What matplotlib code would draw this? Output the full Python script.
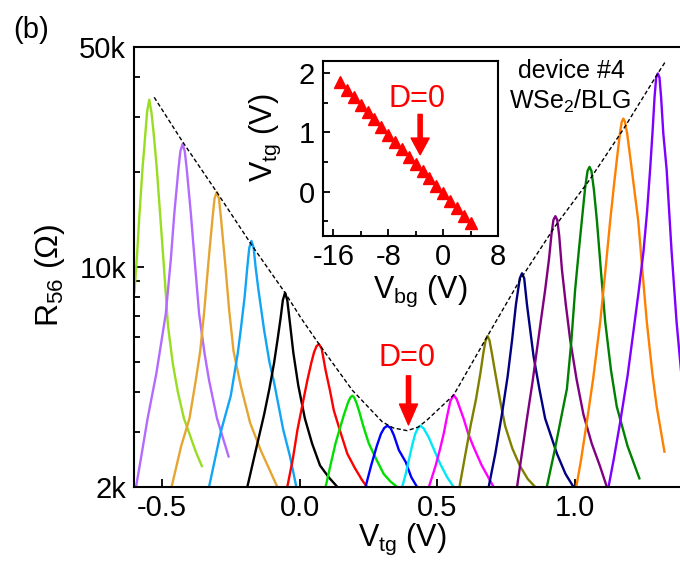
import matplotlib
matplotlib.use('Agg')
import matplotlib.pyplot as plt
from matplotlib.ticker import FixedLocator, NullFormatter

plt.rcParams['font.family'] = ['Liberation Sans', 'DejaVu Sans']
plt.rcParams['mathtext.fontset'] = 'custom'
plt.rcParams['mathtext.rm'] = 'Liberation Sans'
plt.rcParams['mathtext.it'] = 'Liberation Sans:italic'
plt.rcParams['axes.unicode_minus'] = False

# R56 vs Vtg traces (R in kOhm), one list per trace
curve_vtg = [
    [-0.600, -0.590, -0.582, -0.570, -0.560, -0.554, -0.546, -0.538, -0.530, -0.519, -0.506, -0.492, -0.478, -0.460, -0.442, -0.420, -0.400, -0.378, -0.355],
    [-0.594, -0.575, -0.552, -0.520, -0.486, -0.468, -0.455, -0.440, -0.433, -0.425, -0.417, -0.410, -0.395, -0.380, -0.365, -0.345, -0.329, -0.300, -0.258],
    [-0.465, -0.430, -0.400, -0.377, -0.361, -0.346, -0.331, -0.316, -0.309, -0.301, -0.293, -0.286, -0.271, -0.256, -0.240, -0.214, -0.180, -0.140, -0.081],
    [-0.329, -0.286, -0.250, -0.225, -0.214, -0.200, -0.190, -0.183, -0.175, -0.167, -0.160, -0.150, -0.129, -0.110, -0.093, -0.060, -0.035, -0.012],
    [-0.190, -0.160, -0.129, -0.110, -0.093, -0.080, -0.069, -0.061, -0.053, -0.045, -0.035, -0.023, -0.005, 0.019, 0.045, 0.074, 0.105, 0.137],
    [-0.045, -0.025, -0.008, 0.010, 0.028, 0.042, 0.052, 0.061, 0.070, 0.080, 0.094, 0.110, 0.124, 0.150, 0.173, 0.200, 0.227, 0.245],
    [0.094, 0.112, 0.130, 0.145, 0.161, 0.176, 0.184, 0.191, 0.198, 0.206, 0.215, 0.232, 0.251, 0.278, 0.305, 0.330, 0.354],
    [0.239, 0.260, 0.280, 0.295, 0.307, 0.318, 0.330, 0.342, 0.360, 0.385, 0.405, 0.426],
    [0.372, 0.385, 0.396, 0.410, 0.420, 0.430, 0.438, 0.450, 0.468, 0.490, 0.511, 0.535, 0.559],
    [0.469, 0.493, 0.510, 0.523, 0.535, 0.547, 0.559, 0.570, 0.582, 0.595, 0.612, 0.632, 0.660, 0.704],
    [0.580, 0.600, 0.620, 0.640, 0.656, 0.667, 0.675, 0.682, 0.689, 0.698, 0.710, 0.728, 0.746, 0.772, 0.800, 0.828, 0.855],
    [0.686, 0.710, 0.734, 0.755, 0.771, 0.785, 0.799, 0.807, 0.815, 0.825, 0.849, 0.870, 0.891, 0.934, 0.965, 0.994],
    [0.789, 0.805, 0.825, 0.845, 0.861, 0.876, 0.891, 0.905, 0.914, 0.921, 0.928, 0.935, 0.942, 0.952, 0.966, 0.982, 1.005, 1.030, 1.060, 1.090, 1.115],
    [0.897, 0.925, 0.950, 0.970, 0.986, 1.000, 1.013, 1.024, 1.036, 1.045, 1.052, 1.059, 1.068, 1.079, 1.094, 1.109, 1.130, 1.151, 1.190, 1.233],
    [1.004, 1.020, 1.042, 1.065, 1.091, 1.110, 1.127, 1.142, 1.153, 1.163, 1.169, 1.175, 1.181, 1.189, 1.199, 1.214, 1.229, 1.245, 1.260, 1.280, 1.296, 1.324],
    [1.121, 1.140, 1.163, 1.190, 1.211, 1.230, 1.248, 1.261, 1.272, 1.281, 1.288, 1.294, 1.300, 1.306, 1.312, 1.320, 1.332, 1.350, 1.368, 1.385],
]
curve_r = [
    [8.3, 11.0, 14.5, 20.8, 26.6, 31.0, 34.0, 31.0, 26.6, 20.8, 14.5, 9.8, 6.5, 4.9, 4.0, 3.3, 2.95, 2.6, 2.33],
    [2.0, 2.5, 3.3, 4.6, 7.1, 10.5, 14.8, 20.5, 23.3, 24.6, 23.3, 20.5, 14.8, 10.2, 7.1, 5.3, 4.37, 3.3, 2.5],
    [2.0, 2.7, 3.3, 4.37, 5.4, 7.3, 10.4, 14.4, 16.5, 17.3, 16.5, 14.4, 10.4, 7.3, 5.4, 4.2, 3.2, 2.6, 2.0],
    [2.0, 3.0, 3.9, 5.3, 6.3, 8.0, 10.0, 11.5, 12.1, 11.5, 10.0, 8.5, 6.3, 5.0, 4.3, 3.05, 2.5, 2.0],
    [2.0, 2.6, 3.4, 4.1, 4.95, 5.9, 6.9, 7.85, 8.28, 7.85, 6.6, 5.34, 4.2, 3.3, 2.75, 2.34, 2.15, 2.0],
    [2.0, 2.45, 3.04, 3.65, 4.37, 4.95, 5.35, 5.6, 5.69, 5.5, 4.7, 4.05, 3.5, 2.95, 2.55, 2.3, 2.1, 2.0],
    [2.0, 2.35, 2.75, 3.05, 3.4, 3.72, 3.85, 3.90, 3.85, 3.7, 3.5, 3.1, 2.75, 2.45, 2.2, 2.08, 2.0],
    [2.0, 2.35, 2.7, 2.95, 3.08, 3.13, 3.08, 2.92, 2.62, 2.4, 2.15, 2.0],
    [2.0, 2.2, 2.43, 2.75, 2.96, 3.08, 3.13, 3.07, 2.88, 2.6, 2.36, 2.15, 2.0],
    [2.0, 2.33, 2.65, 2.96, 3.35, 3.75, 3.92, 3.8, 3.55, 3.3, 2.95, 2.67, 2.35, 2.0],
    [2.0, 2.5, 3.12, 3.8, 4.6, 5.35, 5.85, 6.04, 5.85, 5.3, 4.6, 3.75, 3.12, 2.65, 2.33, 2.12, 2.0],
    [2.0, 2.55, 3.4, 4.5, 5.86, 7.6, 9.2, 9.55, 9.2, 7.6, 5.2, 4.1, 3.3, 2.55, 2.2, 2.0],
    [2.0, 2.5, 3.3, 4.3, 5.45, 6.8, 8.45, 10.6, 12.7, 14.1, 14.5, 14.1, 12.6, 9.8, 7.6, 5.86, 4.4, 3.4, 2.75, 2.33, 2.0],
    [2.0, 2.6, 3.35, 4.1, 5.8, 8.5, 11.2, 14.0, 17.8, 20.2, 20.8, 20.2, 17.6, 14.0, 9.6, 6.7, 4.7, 3.6, 2.7, 2.13],
    [2.0, 2.4, 3.2, 4.4, 6.7, 9.8, 14.0, 18.6, 22.6, 26.8, 28.9, 29.6, 28.9, 26.4, 22.6, 17.8, 14.0, 9.5, 6.7, 4.6, 3.6, 2.59],
    [2.0, 2.45, 3.2, 4.5, 6.2, 8.3, 11.2, 15.0, 20.4, 27.0, 34.5, 40.0, 41.2, 40.0, 34.5, 26.5, 20.4, 11.2, 6.7, 4.6],
]
curve_colors = ['#99dd22', '#b36bff', '#e6a532', '#12a5f5', '#000000', '#ff0000',
                '#00e000', '#0000ff', '#00e8f8', '#ff00ff', '#808000', '#000080',
                '#800080', '#008000', '#ff8000', '#8000ff']

# dashed envelope through the peak maxima
env_vtg = [-0.528, -0.425, -0.301, -0.170, -0.053, 0.004, 0.070, 0.191, 0.300, 0.340,
           0.390, 0.430, 0.460, 0.559, 0.682, 0.800, 0.928, 1.052, 1.175, 1.300, 1.326]
env_r = [34.6, 25.0, 17.3, 11.6, 8.28, 6.9, 5.69, 4.06, 3.22, 3.08,
         3.02, 3.1, 3.25, 3.92, 6.04, 9.1, 13.5, 18.9, 27.4, 41.2, 44.7]

# inset: D=0 line
inset_vbg = [-15, -14, -13, -12, -11, -10, -9, -8, -7, -6, -5, -4, -3, -2, -1, 0, 1, 2, 3, 4]
inset_vtg = [1.84, 1.71, 1.59, 1.46, 1.34, 1.22, 1.09, 0.96, 0.84, 0.72,
             0.59, 0.47, 0.34, 0.22, 0.09, -0.03, -0.16, -0.28, -0.41, -0.53]

fig = plt.figure(figsize=(6.8, 5.66), dpi=100)
ax = fig.add_axes([0.1976, 0.1396, 0.8103, 0.7774])

for xs, rs, c in zip(curve_vtg, curve_r, curve_colors):
    ax.plot(xs, rs, color=c, lw=1.7, solid_joinstyle='round')
ax.plot(env_vtg, env_r, color='black', lw=1.0, dashes=(3, 1.8))

ax.set_yscale('log')
ax.set_xlim(-0.6, 1.4)
ax.set_ylim(2, 50)
ax.yaxis.set_major_locator(FixedLocator([2, 10, 50]))
ax.set_yticklabels(['2k', '10k', '50k'])
ax.yaxis.set_minor_locator(FixedLocator([3, 4, 5, 6, 7, 8, 9, 20, 30, 40]))
ax.yaxis.set_minor_formatter(NullFormatter())
ax.set_xticks([-0.5, 0.0, 0.5, 1.0])
ax.set_xticklabels(['-0.5', '0.0', '0.5', '1.0'])
ax.tick_params(which='both', direction='in', labelsize=21, width=1.3)
ax.tick_params(axis='y', which='major', length=7, pad=6)
ax.tick_params(axis='y', which='minor', length=4.5)
ax.tick_params(axis='x', which='major', length=6, pad=5)
for s in ax.spines.values():
    s.set_linewidth(1.5)

ax.set_ylabel(r'R$_{56}$ ($\Omega$)', fontsize=23)
ax.yaxis.set_label_coords(-0.122, 0.48)
ax.set_xlabel(r'V$_{\rm tg}$ (V)', fontsize=22)
ax.xaxis.set_label_coords(0.487, -0.08)

ax.text(0.388, 5.14, 'D=0', color='red', fontsize=22, ha='center', va='center')
ax.annotate('', xy=(0.395, 3.15), xytext=(0.395, 4.51),
            arrowprops=dict(facecolor='red', edgecolor='red', width=3, headwidth=13, headlength=15))

fig.text(0.019, 0.947, '(b)', fontsize=21, ha='left', va='center')
fig.text(0.841, 0.8746, 'device #4', fontsize=18, ha='center', va='center')
fig.text(0.838, 0.82, r'WSe$_2$/BLG', fontsize=18, ha='center', va='center')

# inset
axi = fig.add_axes([0.475, 0.583, 0.2574, 0.3092])
axi.set_facecolor('white')
axi.plot(inset_vbg, inset_vtg, linestyle='none', marker='^', color='red', markersize=8.5)
axi.set_xlim(-17.5, 8)
axi.set_ylim(-0.75, 2.2)
axi.set_xticks([-16, -8, 0, 8])
axi.set_xticks([-12, -4, 4], minor=True)
axi.set_yticks([0, 1, 2])
axi.set_yticks([-0.5, 0.5, 1.5], minor=True)
axi.tick_params(which='both', direction='in', labelsize=21, width=1.3)
axi.tick_params(which='major', length=5)
axi.tick_params(which='minor', length=3.5)
axi.tick_params(axis='x', pad=5)
axi.tick_params(axis='y', pad=6)
for s in axi.spines.values():
    s.set_linewidth(1.5)
axi.set_ylabel(r'V$_{\rm tg}$ (V)', fontsize=22)
axi.yaxis.set_label_coords(-0.229, 0.56)
axi.set_xlabel(r'V$_{\rm bg}$ (V)', fontsize=22)
axi.xaxis.set_label_coords(0.554, -0.215)
axi.text(-3.8, 1.56, 'D=0', color='red', fontsize=22, ha='center', va='center')
axi.annotate('', xy=(-3.35, 0.62), xytext=(-3.35, 1.30),
             arrowprops=dict(facecolor='red', edgecolor='red', width=3, headwidth=13, headlength=12))

fig.savefig('out.png', dpi=100)
